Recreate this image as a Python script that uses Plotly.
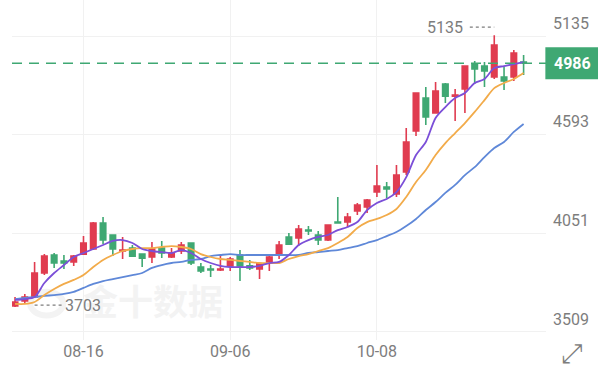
import plotly.graph_objects as go

dates = ["08-06","08-07","08-08","08-11","08-12","08-13","08-14","08-16","08-18","08-19","08-20","08-21","08-22","08-25","08-26","08-27","08-28","08-29","09-01","09-02","09-03","09-04","09-06","09-08","09-09","09-10","09-11","09-12","09-15","09-16","09-17","09-18","09-19","09-22","09-23","09-24","09-25","10-08","10-09","10-10","10-13","10-14","10-15","10-16","10-17","10-20","10-21","10-22","10-23","10-24","10-27","10-28","10-29"]
opens = [3652,3679,3701,3833,3932,3899,3894,3937,3965,4108,4042,3954,3970,3937,3921,3970,3921,3954,3998,3866,3855,3850,3872,3932,3872,3855,3888,3932,4031,4025,4069,4042,4014,4113,4113,4174,4196,4278,4306,4267,4388,4613,4794,4712,4871,4805,4844,4981,4970,4910,4910,4910,4992]
closes = [3674,3701,3833,3926,3888,3888,3926,3998,4108,4014,3965,3959,3926,3915,3965,3943,3943,3987,3888,3844,3850,3855,3910,3872,3861,3883,3921,3987,3992,4075,4064,4014,4097,4108,4141,4207,4234,4311,4295,4371,4553,4822,4690,4833,4805,4811,4970,4954,4943,5086,4888,5042,4987]
highs = [3701,3718,3894,3937,3943,3932,3932,4036,4113,4141,4042,4031,3987,3937,4003,4009,3970,4003,3998,3888,3877,3926,3921,3959,3905,3888,3926,4009,4053,4097,4091,4064,4097,4251,4163,4218,4240,4426,4333,4426,4630,4822,4855,4882,4877,4844,4970,4998,4992,5140,4965,5058,5031]
lows = [3646,3668,3701,3822,3861,3855,3872,3932,3959,3992,3926,3910,3921,3866,3888,3915,3915,3937,3877,3833,3811,3844,3844,3789,3850,3800,3844,3910,3987,3981,4042,3987,4009,4108,4086,4152,4163,4251,4245,4251,4371,4586,4646,4712,4767,4668,4712,4871,4855,4899,4838,4888,4921]
ma_short = [3685,3690,3701,3778,3833,3877,3921,3943,3965,3987,4009,4014,3998,3965,3954,3948,3943,3959,3943,3910,3888,3872,3866,3866,3866,3872,3888,3894,3932,3987,4014,4031,4042,4069,4086,4113,4179,4218,4240,4278,4360,4481,4553,4685,4745,4794,4822,4877,4899,4959,4970,4981,4992]
ma_mid = [3663,3663,3674,3712,3745,3773,3795,3822,3866,3905,3932,3954,3965,3970,3970,3976,3981,3976,3965,3937,3921,3910,3905,3899,3894,3888,3888,3888,3910,3926,3937,3954,3970,3998,4031,4080,4113,4130,4152,4185,4251,4333,4399,4481,4547,4602,4657,4718,4783,4849,4877,4899,4932]
ma_long = [3690,3696,3701,3707,3712,3718,3729,3751,3773,3789,3800,3811,3822,3833,3861,3877,3888,3894,3905,3910,3926,3932,3937,3932,3932,3932,3932,3932,3932,3932,3943,3948,3954,3959,3970,3981,3998,4014,4036,4058,4091,4130,4179,4223,4273,4317,4371,4415,4470,4520,4553,4608,4652]
y_ticks = [5135, 4593, 4051, 3509]
x_ticks = ["08-16", "09-06", "10-08"]
last_price = 4986
high_label = 5135
low_label = 3703
high_label_level = 5184
low_label_level = 3657

RED, GREEN = "#e03c50", "#3fa873"
GREY = "#7d7d7d"
GRID = "#f1f1f1"
FONT = "Roboto"

fig = go.Figure()
fig.add_trace(go.Candlestick(
    x=dates, open=opens, high=highs, low=lows, close=closes, whiskerwidth=0,
    increasing=dict(line=dict(color=RED, width=1.6), fillcolor=RED),
    decreasing=dict(line=dict(color=GREEN, width=1.6), fillcolor=GREEN),
    showlegend=False))
for vals, col in ((ma_long, "#5f88d8"), (ma_mid, "#f2ab4a"), (ma_short, "#7b4fd8")):
    fig.add_trace(go.Scatter(x=dates, y=vals, mode="lines", showlegend=False,
                             line=dict(color=col, width=1.8, shape="spline", smoothing=0.8)))

shapes = [
    dict(type="line", xref="paper", x0=0, x1=1, yref="y", y0=last_price, y1=last_price,
         line=dict(color=GREEN, width=1.5, dash="10px,7px")),
    dict(type="rect", xref="paper", x0=0.9988, x1=1.0974, yref="y", ysizemode="pixel",
         yanchor=last_price, y0=-16, y1=16, fillcolor=GREEN, line_width=0),
    dict(type="line", xref="x", x0="10-22", x0shift=-0.5, x1="10-24", yref="y", y0=high_label_level, y1=high_label_level,
         line=dict(color=GREY, width=1.3, dash="3px,3px")),
    dict(type="line", xref="x", x0="08-08", x1="08-13", yref="y", y0=low_label_level, y1=low_label_level,
         line=dict(color=GREY, width=1.3, dash="3px,3px")),
    dict(type="circle", xref="paper", yref="y", x0=0.034, x1=0.096, y0=3600, y1=3730,
         line=dict(color="#f3f3f3", width=6), layer="below"),
]
ann = [
    dict(x=0.264, xref="paper", xanchor="center", y=3685, yref="y", yanchor="middle", text="<b>金十数据</b>", showarrow=False,
         font=dict(family="Noto Sans CJK SC", size=35, color="#f3f3f3")),
    dict(x=1.0487, xref="paper", xanchor="center", y=last_price, yref="y", text=f"<b>{last_price}</b>", showarrow=False,
         font=dict(family=FONT, size=16, color="white")),
    dict(x="10-17", xref="x", xanchor="center", y=high_label_level, yref="y", text=str(high_label), showarrow=False,
         font=dict(family=FONT, size=16, color=GREY)),
    dict(x="08-16", xref="x", xanchor="center", y=low_label_level, yref="y", text=str(low_label), showarrow=False,
         font=dict(family=FONT, size=16, color=GREY)),
    dict(x=1.0487, xref="paper", xanchor="center", y=-0.038, yref="paper", yanchor="middle", text="⤢", showarrow=False,
         font=dict(family="DejaVu Sans", size=27, color=GREY)),
]
fig.update_layout(
    width=600, height=371, margin=dict(l=12, r=54, t=0, b=31),
    paper_bgcolor="white", plot_bgcolor="white", shapes=shapes, annotations=ann,
    xaxis=dict(type="category", categoryorder="array", categoryarray=dates, range=[-0.31, 54.29],
               rangeslider=dict(visible=False), tickmode="array", tickvals=x_ticks, ticktext=x_ticks,
               showgrid=True, gridcolor=GRID, gridwidth=1, showline=False, zeroline=False, ticks="",
               tickfont=dict(family=FONT, size=16, color=GREY)),
    yaxis=dict(side="right", range=[3465, 5333], tickmode="array", tickvals=y_ticks, ticktext=[str(v) for v in y_ticks],
               showgrid=True, gridcolor=GRID, gridwidth=1, showline=False, zeroline=False, ticks="",
               ticklabelshift=-13, ticklabelstandoff=6,
               tickfont=dict(family=FONT, size=16, color=GREY)),
    boxgap=0.2,
)
fig.write_html("out.html", config=dict(displayModeBar=False),
               post_script="document.body.style.margin='0';document.documentElement.style.overflow='hidden';")
